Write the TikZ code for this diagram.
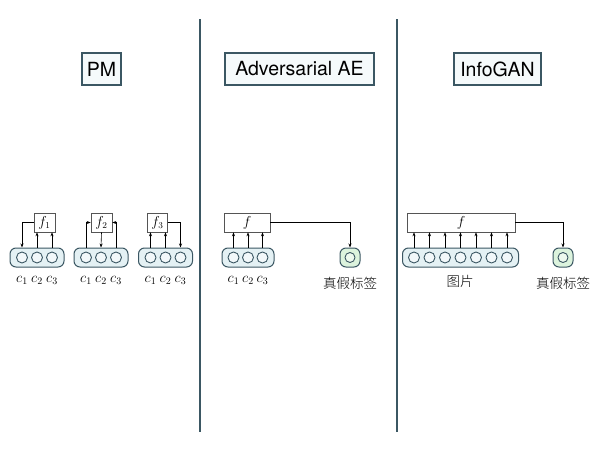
\documentclass[tikz,border=0pt]{standalone}
\usepackage{fontspec}
\setsansfont{TeX Gyre Heros}
\newfontfamily\cjk{Noto Sans CJK SC Light}
\usetikzlibrary{arrows.meta}
\definecolor{frame}{HTML}{3B5763}
\definecolor{capfill}{HTML}{E4F1F4}
\definecolor{greenfill}{HTML}{DCF3DD}
\definecolor{titlefill}{HTML}{F5FAFB}
\definecolor{fgray}{HTML}{555555}
\begin{document}
\begin{tikzpicture}[x=1pt,y=-1pt,
 title/.style={draw=frame, line width=1.3pt, fill=titlefill, font=\sffamily\fontsize{19.5}{22}\selectfont, inner xsep=2pt, minimum height=32pt},
 caps/.style={draw=frame, line width=1pt, rounded corners=6pt, fill=capfill, minimum height=19pt, inner sep=0pt},
 gcaps/.style={caps, fill=greenfill, minimum width=20pt},
 unit/.style={circle, draw=frame, line width=0.9pt, fill=capfill!50, minimum size=11pt, inner sep=0pt},
 gunit/.style={unit, fill=greenfill!50, minimum size=10pt},
 fbox/.style={draw=fgray, line width=0.6pt, fill=white, font=\fontsize{13.5}{15}\selectfont, inner sep=0pt, minimum height=19pt},
 conn/.style={-{Stealth[length=4pt,width=3pt]}, line width=0.6pt},
 lab/.style={font=\fontsize{14}{16}\selectfont},
 zh/.style={font=\cjk\fontsize{13.5}{15}\selectfont},
 divider/.style={draw=frame, line width=1.1pt}
]
\useasboundingbox (0,0) rectangle (600,450);
\fill[white] (0,0) rectangle (600,450);

% dividers
\coordinate (d1t) at (200,19); \coordinate (d1b) at (200,432);
\coordinate (d2t) at (397,19); \coordinate (d2b) at (397,432);
\draw[divider] (d1t) -- (d1b);
\draw[divider] (d2t) -- (d2b);

% titles
\node[title, minimum width=39pt] (tpm) at (101.5,69) {PM};
\node[title, minimum width=149pt] (tae) at (299.5,69) {Adversarial AE};
\node[title, minimum width=87pt] (tig) at (497.5,69) {InfoGAN};

% ---------- PM group 1
\node[caps, minimum width=54pt] (capA) at (37,257.5) {};
\node[unit] (a1) at (22,257.5) {};
\node[unit] (a2) at (37,257.5) {};
\node[unit] (a3) at (52,257.5) {};
\node[fbox, minimum width=21pt] (fA) at (44.5,222.5) {$f_1$};
\draw[conn] (fA.west) -| (a1 |- capA.north);
\draw[conn] (a2 |- capA.north) -- (a2 |- fA.south);
\draw[conn] (a3 |- capA.north) -- (a3 |- fA.south);
\node[lab] (la1) at (22,280) {$c_1$};
\node[lab] (la2) at (37,280) {$c_2$};
\node[lab] (la3) at (52,280) {$c_3$};

% ---------- PM group 2
\node[caps, minimum width=54pt] (capB) at (101,257.5) {};
\node[unit] (b1) at (86,257.5) {};
\node[unit] (b2) at (101,257.5) {};
\node[unit] (b3) at (116,257.5) {};
\node[fbox, minimum width=21pt] (fB) at (101.5,222.5) {$f_2$};
\draw[conn] (b1 |- capB.north) |- (fB.west);
\draw[conn] (b3 |- capB.north) |- (fB.east);
\draw[conn] (fB.south) -- (b2 |- capB.north);
\node[lab] (lb1) at (86,280) {$c_1$};
\node[lab] (lb2) at (101,280) {$c_2$};
\node[lab] (lb3) at (116,280) {$c_3$};

% ---------- PM group 3
\node[caps, minimum width=54pt] (capC) at (165.5,257.5) {};
\node[unit] (k1) at (150.5,257.5) {};
\node[unit] (k2) at (165.5,257.5) {};
\node[unit] (k3) at (180.5,257.5) {};
\node[fbox, minimum width=20pt] (fC) at (157.5,222.5) {$f_3$};
\draw[conn] (k1 |- capC.north) -- (k1 |- fC.south);
\draw[conn] (k2 |- capC.north) -- (k2 |- fC.south);
\draw[conn] (fC.east) -| (k3 |- capC.north);
\node[lab] (lk1) at (150.5,280) {$c_1$};
\node[lab] (lk2) at (165.5,280) {$c_2$};
\node[lab] (lk3) at (180.5,280) {$c_3$};

% ---------- Adversarial AE
\node[caps, minimum width=52pt] (capD) at (248,257.5) {};
\node[unit] (e1) at (233.5,257.5) {};
\node[unit] (e2) at (248,257.5) {};
\node[unit] (e3) at (262.5,257.5) {};
\node[fbox, minimum width=46pt] (fD) at (247,222.5) {$f$};
\draw[conn] (e1 |- capD.north) -- (e1 |- fD.south);
\draw[conn] (e2 |- capD.north) -- (e2 |- fD.south);
\draw[conn] (e3 |- capD.north) -- (e3 |- fD.south);
\node[lab] (le1) at (233.5,280) {$c_1$};
\node[lab] (le2) at (248,280) {$c_2$};
\node[lab] (le3) at (262.5,280) {$c_3$};
\node[gcaps] (gD) at (350,257.5) {};
\node[gunit] (gDu) at (350,257.5) {};
\draw[conn] (fD.east) -| (gD.north);
\node[zh] (zD) at (350,283) {真假标签};

% ---------- InfoGAN
\node[caps, minimum width=116pt] (capE) at (460.5,257.5) {};
\foreach \i in {0,...,6} {
  \node[unit] (p\i) at ({414+15.5*\i},257.5) {};
}
\node[fbox, minimum width=108pt] (fE) at (461,222.5) {$f$};
\foreach \i in {0,...,6} {
  \draw[conn] (p\i |- capE.north) -- (p\i |- fE.south);
}
\node[zh] (zE1) at (460,281) {图片};
\node[gcaps] (gE) at (563,257.5) {};
\node[gunit] (gEu) at (563,257.5) {};
\draw[conn] (fE.east) -| (gE.north);
\node[zh] (zE2) at (563,283) {真假标签};
\end{tikzpicture}
\end{document}
